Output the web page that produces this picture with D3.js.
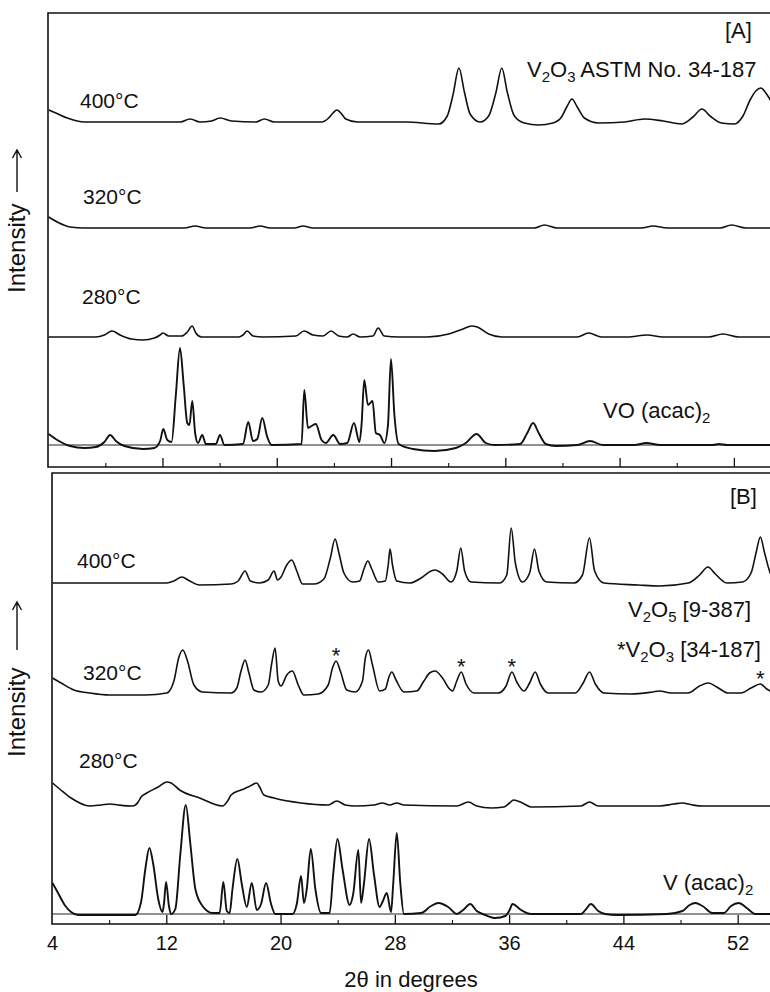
<!DOCTYPE html>
<html>
<head>
<meta charset="utf-8">
<script src="https://cdn.jsdelivr.net/npm/d3@7"></script>
<style>
  html, body { margin: 0; padding: 0; background: #fff; }
  svg text { font-family: "Liberation Sans", Arial, sans-serif; fill: #111; }
</style>
</head>
<body>
<div id="chart"></div>
<script>
// 2-theta tick values (degrees)
const majorTicks = [12, 20, 28, 36, 44, 52];
const minorTicks = [8, 16, 24, 32, 40, 48];
const tickLabels = [4, 12, 20, 28, 36, 44, 52];

// Panel A traces: [2theta, intensity above trace baseline]
const a400 = [[4,12],[4.5,9],[5.3,4],[6.5,0],[13.2,0],[13.9,3],[14.6,0],[15.4,1],[16.0,4],[16.8,1],[18.5,0],[19.1,3],[19.8,0],[23.1,0],[23.6,4],[23.9,9],[24.17,12],[24.45,9],[24.8,3],[25.6,0],[29,0],[31.3,-2],[31.9,6],[32.3,27],[32.72,54],[33.1,30],[33.5,8],[34.2,0],[34.8,6],[35.3,29],[35.72,54],[36.1,30],[36.6,6],[37.3,-1],[38.3,-3],[39.3,-1],[39.9,5],[40.3,16],[40.63,23],[41.0,15],[41.5,4],[42.5,-1],[44.3,0],[45.7,3],[47.0,1],[48.3,-2],[49.1,5],[49.73,13],[50.3,6],[51.1,-1],[52.0,-2],[52.6,6],[53.1,22],[53.5,31],[53.85,34],[54.2,29],[54.6,20]];
const a320 = [[4,11],[4.6,6],[5.5,1],[6.5,0],[13.5,0],[14.25,2],[15,0],[18.1,0],[18.8,2],[19.5,0],[21.2,0],[21.8,2],[22.5,0],[30,0],[38.0,0],[38.7,3],[39.6,0],[45.5,0],[46.3,2],[47.3,0],[51.0,0],[51.8,3],[52.8,0],[54.6,0]];
const a280 = [[4,0],[7.3,0],[7.9,2],[8.43,6],[9.0,2],[9.8,-2],[10.6,-3],[11.4,-1],[11.8,2],[12.0,4],[12.4,1],[13.3,1],[13.7,5],[14.04,11],[14.3,4],[14.7,0],[17.3,0],[17.6,2],[17.89,6],[18.3,1],[19,0],[21.3,1],[21.88,6],[22.5,2],[23.2,1],[23.77,6],[24.3,1],[24.9,0],[25.31,3],[25.8,0],[26.7,1],[27.06,9],[27.5,1],[28.5,0],[30.5,0],[32,3],[33.0,8],[33.6,11],[34.0,10],[34.8,3],[35.7,0],[41,0],[41.8,4],[42.7,0],[44.5,0],[45.9,2],[47,0],[50.2,0],[51.2,3],[52.3,0],[54.6,0]];
const aVOacac = [[4,11],[4.6,5],[5.5,-1],[6.5,-3],[7.3,-2],[7.9,3],[8.3,10],[8.7,4],[9.3,-1],[10.6,-4],[11.4,-3],[11.8,4],[12.02,16],[12.3,5],[12.6,3],[12.9,50],[13.19,97],[13.45,60],[13.7,22],[13.85,20],[14.05,44],[14.25,12],[14.45,2],[14.75,10],[15.0,1],[15.7,1],[15.99,10],[16.3,0],[17.6,1],[17.97,23],[18.3,4],[18.6,6],[18.95,27],[19.3,8],[19.6,0],[21.7,1],[21.89,55],[22.15,17],[22.4,19],[22.7,21],[23.1,5],[23.4,2],[23.92,10],[24.4,1],[24.9,2],[25.37,22],[25.75,3],[25.9,20],[26.09,65],[26.35,40],[26.67,44],[26.9,12],[27.19,10],[27.5,2],[27.75,20],[27.96,86],[28.2,30],[28.5,1],[29.5,-4],[31,-6],[32.5,-3],[33.2,2],[33.95,11],[34.6,2],[35.2,0],[37.0,1],[37.5,12],[37.91,22],[38.3,12],[38.8,1],[39.5,-1],[41.0,0],[41.9,4],[42.8,0],[45,0],[45.85,2],[46.8,0],[50.5,0],[50.9,1],[51.5,0],[54.6,0]];

// Panel B traces
const b400 = [[4,0],[12.0,0],[12.5,2],[13.05,6],[13.6,2],[14.3,-2],[16.5,-1],[17.0,2],[17.48,12],[17.85,2],[18.5,0],[19.1,3],[19.51,12],[19.75,3],[20.0,6],[20.4,18],[20.75,23],[21.1,12],[21.5,-1],[22.3,-1],[23.0,4],[23.45,25],[23.78,44],[24.05,30],[24.4,10],[25.0,1],[25.5,2],[25.8,14],[26.07,22],[26.35,14],[26.8,1],[27.3,2],[27.5,18],[27.63,34],[27.8,18],[28.1,2],[29.0,0],[29.8,5],[30.5,12],[30.78,13],[31.3,9],[31.9,1],[32.3,12],[32.58,35],[32.85,12],[33.3,1],[35.3,0],[35.8,8],[36.11,55],[36.4,20],[36.9,1],[37.4,10],[37.74,34],[38.05,12],[38.6,1],[40.5,0],[41.1,8],[41.59,45],[41.95,12],[42.6,0],[45,-2],[46.5,-3],[48.5,0],[49.3,8],[49.88,16],[50.4,9],[51.2,0],[52.3,1],[52.9,10],[53.25,30],[53.55,46],[53.85,30],[54.3,8],[54.6,4]];
const b320 = [[4,15],[4.6,10],[5.5,3],[6.6,0],[8,-2],[10.5,-2],[12.0,0],[12.5,12],[12.85,36],[13.12,43],[13.45,32],[13.9,8],[14.5,1],[16.5,0],[16.9,5],[17.2,22],[17.48,33],[17.75,20],[18.1,3],[18.6,1],[19.1,8],[19.35,30],[19.58,45],[19.8,12],[20.0,7],[20.4,18],[20.79,22],[21.2,8],[21.6,-2],[22.6,-1],[23.3,8],[23.6,25],[23.85,32],[24.15,22],[24.6,3],[25.2,1],[25.7,12],[25.9,35],[26.12,43],[26.4,28],[26.9,2],[27.3,4],[27.55,16],[27.75,21],[28.05,13],[28.6,1],[29.5,2],[30.0,12],[30.4,20],[30.78,22],[31.3,15],[31.8,4],[32.0,2],[32.3,12],[32.61,21],[32.95,9],[33.5,0],[35.2,0],[35.75,7],[36.16,21],[36.5,11],[37.0,2],[37.4,10],[37.79,21],[38.15,9],[38.7,0],[40.6,0],[41.15,10],[41.59,21],[42.0,9],[42.6,0],[44.5,-1],[46,1],[46.5,2],[47.3,0],[48.5,0],[49.3,7],[49.92,10],[50.5,6],[51.3,0],[52.2,0],[52.9,5],[53.55,9],[54.0,4],[54.6,0]];
const b280 = [[4,23],[4.5,17],[5.3,8],[6.6,0],[7.4,1],[8.0,2],[8.6,1],[9.6,0],[10.0,4],[10.2,9],[10.6,13],[11.4,19],[12.0,24],[12.3,23],[12.9,16],[14.3,8],[15.9,0],[16.3,6],[16.5,11],[17.2,16],[17.7,19],[18.3,23],[18.5,19],[18.8,11],[19.5,8],[21.4,3],[23.3,1],[23.9,5],[24.5,1],[25.2,0],[26.5,1],[27.1,3],[27.6,1],[28.1,3],[28.6,1],[32.3,0],[33.12,4],[33.7,0],[34.7,-2],[35.6,-1],[36.0,3],[36.27,6],[36.9,3],[37.5,-1],[41.0,0],[41.59,4],[42.2,0],[46.5,0],[47.5,2],[48.06,3],[48.8,1],[49.5,0],[54.6,0]];
const bVacac = [[4,31],[4.35,22],[4.9,8],[5.3,2],[5.8,-1],[9.8,-1],[10.2,12],[10.5,45],[10.78,66],[11.05,50],[11.4,15],[11.7,2],[11.8,10],[11.95,32],[12.15,8],[12.3,0],[12.6,5],[12.95,60],[13.33,109],[13.65,70],[14.0,25],[14.5,8],[15.2,1],[15.7,1],[15.96,32],[16.2,3],[16.4,1],[16.6,25],[16.94,55],[17.25,30],[17.6,7],[17.95,31],[18.3,4],[18.6,10],[18.95,31],[19.3,10],[19.6,0],[20.8,0],[21.1,10],[21.4,38],[21.6,11],[21.8,25],[22.08,65],[22.4,25],[22.8,1],[23.4,1],[23.65,40],[23.95,75],[24.3,45],[24.8,9],[25.05,20],[25.41,64],[25.6,11],[25.8,30],[26.16,75],[26.5,40],[26.9,7],[27.1,12],[27.4,21],[27.7,2],[27.85,30],[28.1,81],[28.35,30],[28.6,0],[29.8,1],[30.5,8],[31.02,11],[31.7,7],[32.3,0],[32.75,4],[33.24,10],[33.7,3],[34.3,-1],[35.0,-4],[35.7,-2],[36.0,4],[36.2,10],[36.8,4],[37.5,0],[41.0,0],[41.3,4],[41.69,10],[42.2,3],[42.7,0],[43.5,-1],[47.0,0],[48.1,3],[48.6,9],[48.99,11],[49.5,8],[50.2,1],[51.0,1],[51.5,8],[52.03,11],[52.6,6],[53.2,0],[54.6,0]];

// stacking offsets (intensity units) and labels
const panelA = [
  { data: a400, offset: 345, label: "400°C" },
  { data: a320, offset: 239, label: "320°C" },
  { data: a280, offset: 130, label: "280°C" },
  { data: aVOacac, offset: 22, label: null }
];
const panelB = [
  { data: b400, offset: 341, label: "400°C" },
  { data: b320, offset: 231, label: "320°C" },
  { data: b280, offset: 118, label: "280°C" },
  { data: bVacac, offset: 10, label: null }
];
// V2O3 reflections marked with * in the 320°C pattern of [B]
const starPeaks = [[23.85, 32], [32.61, 21], [36.16, 21], [53.55, 9]];

const W = 770, H = 992;
const svg = d3.select("#chart").append("svg")
  .attr("width", W).attr("height", H);

// each panel gets its own scales (the scanned frames are slightly offset)
const panels = [
  { traces: panelA, left: 48, top: 13, bottom: 467, x0: 48.7, labelX: [80, 83, 82], labelY: [108, 204, 304], yLabel: 293, arrowFrom: 192, arrowTo: 150 },
  { traces: panelB, left: 52, top: 473, bottom: 924, x0: 52.5, labelX: [77, 83, 79], labelY: [568, 680, 768], yLabel: 757, arrowFrom: 650, arrowTo: 602 }
];

const line = (x, y, offset) => d3.line()
  .x(d => x(d[0]))
  .y(d => y(offset + d[1]))
  .curve(d3.curveMonotoneX);

panels.forEach(p => {
  const x = d3.scaleLinear().domain([4, 56]).range([p.x0, p.x0 + 52 * 14.285]);
  const y = d3.scaleLinear().domain([0, p.bottom - p.top]).range([p.bottom, p.top]);
  p.x = x; p.y = y;

  const g = svg.append("g");

  // frame: top, left, bottom
  g.append("path")
    .attr("d", `M${W + 5},${p.top}H${p.left}V${p.bottom}H${W + 5}`)
    .attr("fill", "none").attr("stroke", "#111").attr("stroke-width", 1.6);

  // inward ticks on the 2theta axis
  g.selectAll(".major").data(majorTicks).join("line")
    .attr("x1", d => x(d)).attr("x2", d => x(d))
    .attr("y1", p.bottom).attr("y2", p.bottom - 9)
    .attr("stroke", "#111").attr("stroke-width", 1.3);
  g.selectAll(".minor").data(minorTicks).join("line")
    .attr("x1", d => x(d)).attr("x2", d => x(d))
    .attr("y1", p.bottom).attr("y2", p.bottom - 4)
    .attr("stroke", "#111").attr("stroke-width", 1.1);

  // reference baseline under the precursor pattern
  const base = p.traces[3].offset;
  g.append("line")
    .attr("x1", x(4)).attr("x2", W)
    .attr("y1", y(base)).attr("y2", y(base))
    .attr("stroke", "#222").attr("stroke-width", 1);

  p.traces.forEach((t, i) => {
    g.append("path")
      .datum(t.data)
      .attr("d", line(x, y, t.offset))
      .attr("fill", "none")
      .attr("stroke", "#111")
      .attr("stroke-width", i === 3 ? 1.9 : 1.6)
      .attr("stroke-linejoin", "round");
    if (t.label) {
      g.append("text")
        .attr("x", p.labelX[i]).attr("y", p.labelY[i])
        .style("font-size", "21px")
        .text(t.label);
    }
  });

  // y axis title, rotated, with a long arrow pointing up
  const yt = svg.append("g").attr("transform", `translate(25,${p.yLabel}) rotate(-90)`);
  yt.append("text").attr("x", 0).attr("y", 0)
    .style("font-size", "24px")
    .text("Intensity");
  const a0 = p.yLabel - p.arrowFrom, a1 = p.yLabel - p.arrowTo;
  yt.append("path")
    .attr("d", `M${a0},-8H${a1}M${a1 - 8},-12.5L${a1},-8L${a1 - 8},-3.5`)
    .attr("fill", "none").attr("stroke", "#111").attr("stroke-width", 1.4);
});

const xb = panels[1].x, yb = panels[1].y;

// tick labels under panel B
svg.selectAll(".tl").data(tickLabels).join("text")
  .attr("x", d => xb(d)).attr("y", 950)
  .attr("text-anchor", "middle")
  .style("font-size", "20px")
  .text(d => d);

svg.append("text")
  .attr("x", 411).attr("y", 987)
  .attr("text-anchor", "middle")
  .style("font-size", "22px")
  .text("2θ in degrees");

// asterisks over V2O3 reflections
svg.selectAll(".star").data(starPeaks).join("text")
  .attr("x", d => xb(d[0])).attr("y", d => yb(231 + d[1]) + 2)
  .attr("text-anchor", "middle")
  .style("font-size", "22px")
  .text("*");

// annotations with subscripts: parts are [text, isSub]
const addLabel = (xPos, yPos, parts, size) => {
  const t = svg.append("text").attr("x", xPos).attr("y", yPos).style("font-size", size + "px");
  let shifted = false;
  parts.forEach(([s, sub]) => {
    const dy = sub ? (shifted ? 0 : 5) : (shifted ? -5 : 0);
    shifted = !!sub;
    t.append("tspan")
      .attr("dy", dy)
      .style("font-size", sub ? (size * 0.68) + "px" : null)
      .text(s);
  });
};

addLabel(725, 38, [["[A]"]], 22);
addLabel(527, 77, [["V"], ["2", true], ["O"], ["3", true], [" ASTM No. 34-187"]], 22);
addLabel(603, 418, [["VO (acac)"], ["2", true]], 22);
addLabel(730, 504, [["[B]"]], 22);
addLabel(628, 617, [["V"], ["2", true], ["O"], ["5", true], [" [9-387]"]], 22);
addLabel(617, 657, [["*V"], ["2", true], ["O"], ["3", true], [" [34-187]"]], 22);
addLabel(663, 890, [["V (acac)"], ["2", true]], 22);
</script>
</body>
</html>
